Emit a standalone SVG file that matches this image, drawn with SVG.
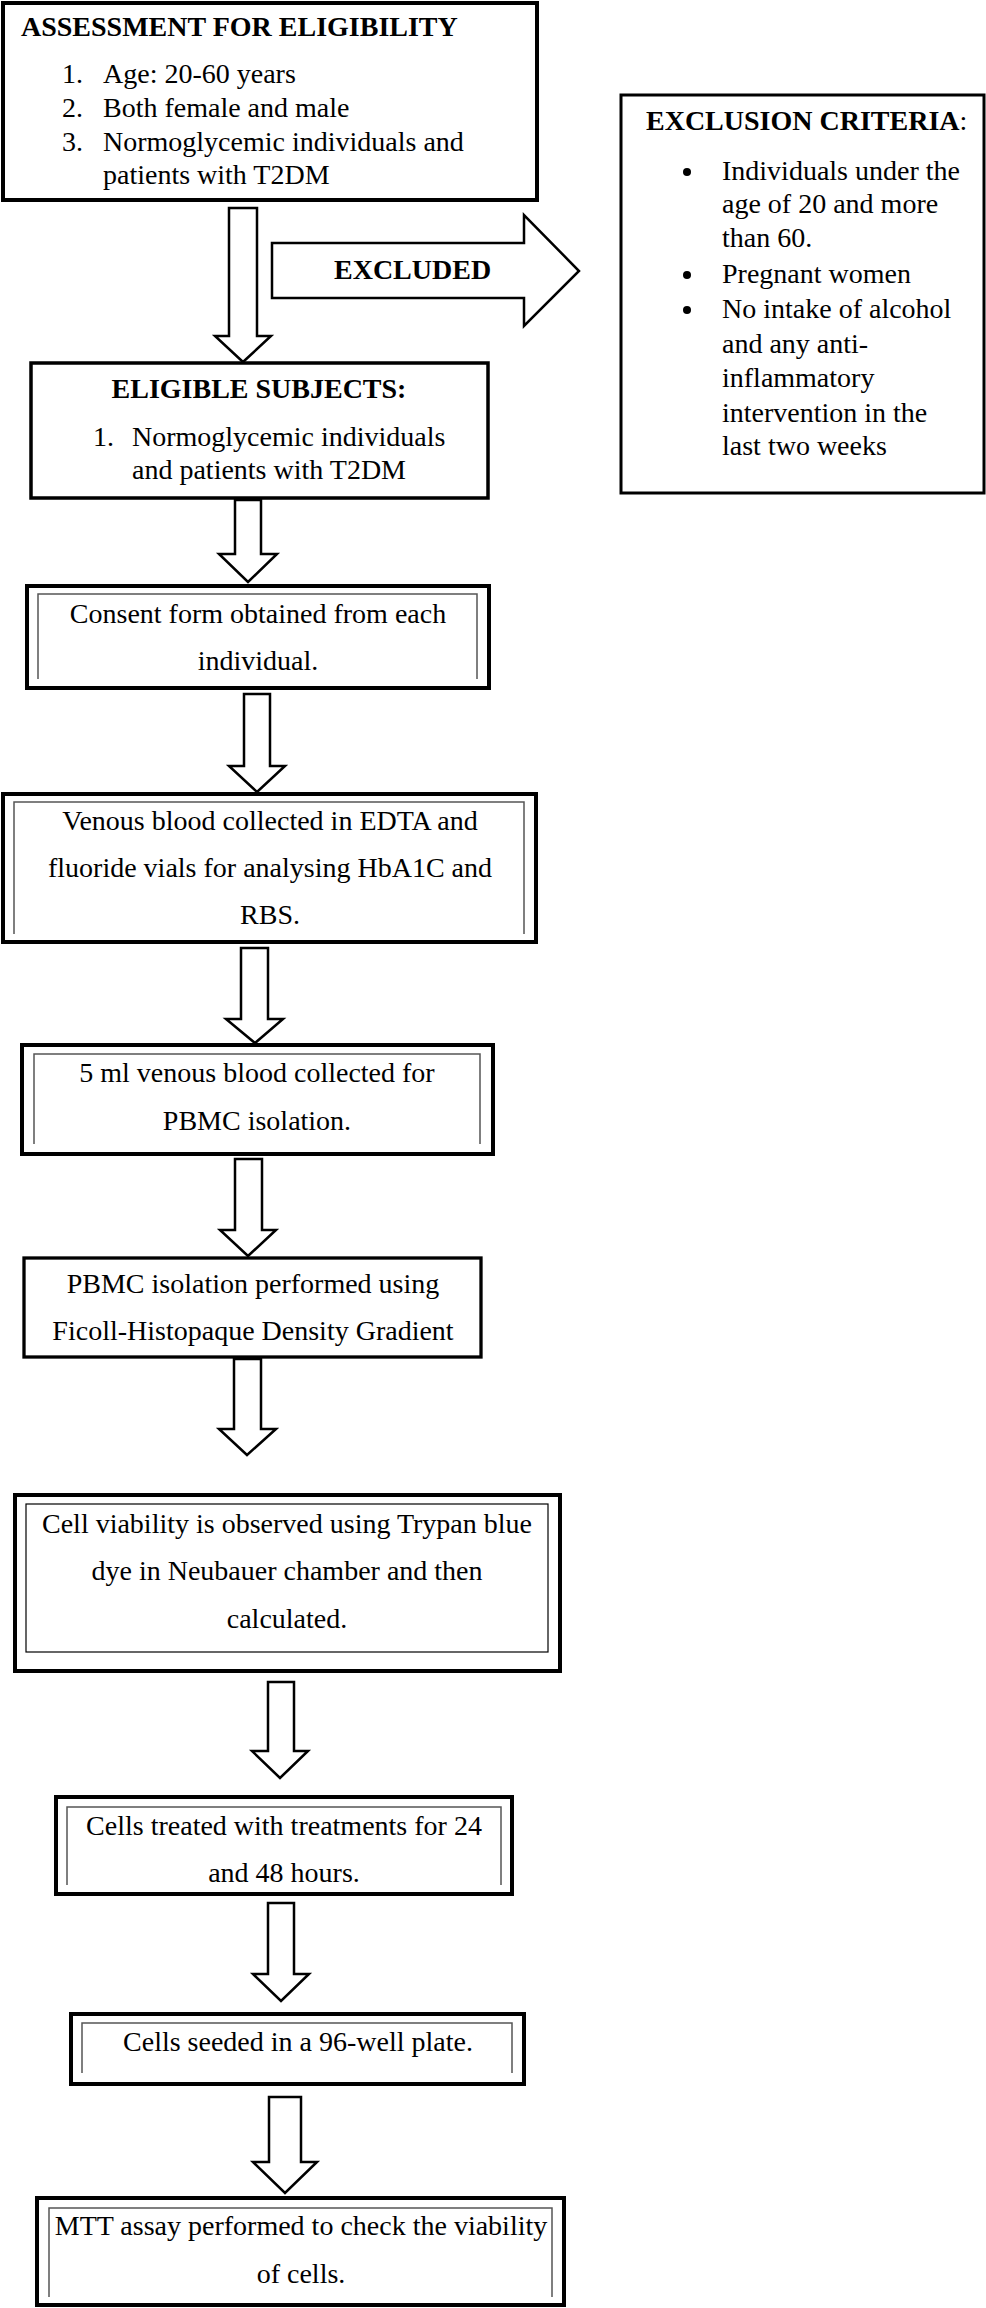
<svg xmlns="http://www.w3.org/2000/svg" width="986" height="2308" viewBox="0 0 986 2308">
<style>
text{font-family:"Liberation Serif","Times New Roman",serif;font-size:28px;fill:#000}
.b{font-weight:bold}
.c{text-anchor:middle}
.box{fill:#fff;stroke:#000}
.inner{fill:none;stroke:#555;stroke-width:1.5}
.arrow{fill:#fff;stroke:#000;stroke-width:2.5;stroke-linejoin:miter}
</style>
<rect width="986" height="2308" fill="#fff"/>
<g id="connectors">
<polygon class="arrow" points="229,208 257,208 257,336 271,336 243,362 215,336 229,336"/>
<polygon class="arrow" points="272,243 524,243 524,215 579,271 524,326 524,298 272,298"/>
<polygon class="arrow" points="235,500 261,500 261,554 277,554 248,582 219,554 235,554"/>
<polygon class="arrow" points="244,694 270,694 270,766 285,766 257,792 229,766 244,766"/>
<polygon class="arrow" points="241,948 268,948 268,1019 283,1019 255,1043 226,1019 241,1019"/>
<polygon class="arrow" points="235,1159 262,1159 262,1230 276,1230 248,1256 220,1230 235,1230"/>
<polygon class="arrow" points="234,1359 261,1359 261,1429 276,1429 247,1455 219,1429 234,1429"/>
<polygon class="arrow" points="268,1682 294,1682 294,1751 308,1751 280,1778 252,1751 268,1751"/>
<polygon class="arrow" points="268,1903 294,1903 294,1974 309,1974 281,2001 253,1974 268,1974"/>
<polygon class="arrow" points="269,2097 301,2097 301,2162 317,2162 285,2193 253,2162 269,2162"/>
<text class="b" x="334" y="279">EXCLUDED</text>
</g>
<g id="assessment">
<rect class="box" x="3" y="3" width="534" height="197" stroke-width="4"/>
<text class="b" x="21" y="36">ASSESSMENT FOR ELIGIBILITY</text>
<text x="62" y="83">1.</text><text x="103" y="83">Age: 20-60 years</text>
<text x="62" y="117">2.</text><text x="103" y="117">Both female and male</text>
<text x="62" y="151">3.</text><text x="103" y="151">Normoglycemic individuals and</text>
<text x="103" y="184">patients with T2DM</text>
</g>
<g id="exclusion">
<rect class="box" x="621" y="95" width="363" height="398" stroke-width="3"/>
<text x="646" y="130"><tspan class="b">EXCLUSION CRITERIA</tspan>:</text>
<circle cx="687" cy="172" r="4"/>
<circle cx="687" cy="275" r="4"/>
<circle cx="687" cy="310" r="4"/>
<text x="722" y="180">Individuals under the</text>
<text x="722" y="213">age of 20 and more</text>
<text x="722" y="247">than 60.</text>
<text x="722" y="283">Pregnant women</text>
<text x="722" y="318">No intake of alcohol</text>
<text x="722" y="353">and any anti-</text>
<text x="722" y="387">inflammatory</text>
<text x="722" y="422">intervention in the</text>
<text x="722" y="455">last two weeks</text>
</g>
<g id="eligible">
<rect class="box" x="31" y="363" width="457" height="135" stroke-width="3.5"/>
<text class="b c" x="259" y="398">ELIGIBLE SUBJECTS:</text>
<text x="93" y="446">1.</text><text x="132" y="446">Normoglycemic individuals</text>
<text x="132" y="479">and patients with T2DM</text>
</g>
<g id="consent">
<rect class="box" x="27" y="586" width="462" height="102" stroke-width="4"/>
<path class="inner" d="M38,679 V594 H477 V679"/>
<text class="c" x="258" y="623">Consent form obtained from each</text>
<text class="c" x="258" y="670">individual.</text>
</g>
<g id="venous">
<rect class="box" x="3" y="794" width="533" height="148" stroke-width="4"/>
<path class="inner" d="M14,934 V802 H524 V934"/>
<text class="c" x="270" y="830">Venous blood collected in EDTA and</text>
<text class="c" x="270" y="877">fluoride vials for analysing HbA1C and</text>
<text class="c" x="270" y="924">RBS.</text>
</g>
<g id="blood5ml">
<rect class="box" x="22" y="1045" width="471" height="109" stroke-width="4"/>
<path class="inner" d="M34,1144 V1054 H480 V1144"/>
<text class="c" x="257" y="1082">5 ml venous blood collected for</text>
<text class="c" x="257" y="1130">PBMC isolation.</text>
</g>
<g id="pbmc">
<rect class="box" x="24" y="1258" width="457" height="99" stroke-width="3.3"/>
<text class="c" x="253" y="1293">PBMC isolation performed using</text>
<text class="c" x="253" y="1340">Ficoll-Histopaque Density Gradient</text>
</g>
<g id="viability">
<rect class="box" x="15" y="1495" width="545" height="176" stroke-width="4"/>
<rect x="26" y="1504" width="522" height="148" fill="none" stroke="#000" stroke-width="1.2"/>
<text class="c" x="287" y="1533">Cell viability is observed using Trypan blue</text>
<text class="c" x="287" y="1580">dye in Neubauer chamber and then</text>
<text class="c" x="287" y="1628">calculated.</text>
</g>
<g id="treated">
<rect class="box" x="56" y="1797" width="456" height="97" stroke-width="4"/>
<path class="inner" d="M67,1885 V1807 H501 V1885"/>
<text class="c" x="284" y="1835">Cells treated with treatments for 24</text>
<text class="c" x="284" y="1882">and 48 hours.</text>
</g>
<g id="seeded">
<rect class="box" x="71" y="2014" width="453" height="70" stroke-width="4"/>
<path class="inner" d="M82,2073 V2023 H512 V2073"/>
<text class="c" x="298" y="2051">Cells seeded in a 96-well plate.</text>
</g>
<g id="mtt">
<rect class="box" x="37" y="2198" width="527" height="107" stroke-width="4"/>
<path class="inner" d="M49,2297 V2208 H552 V2297"/>
<text class="c" x="301" y="2235">MTT assay performed to check the viability</text>
<text class="c" x="301" y="2283">of cells.</text>
</g>
</svg>
